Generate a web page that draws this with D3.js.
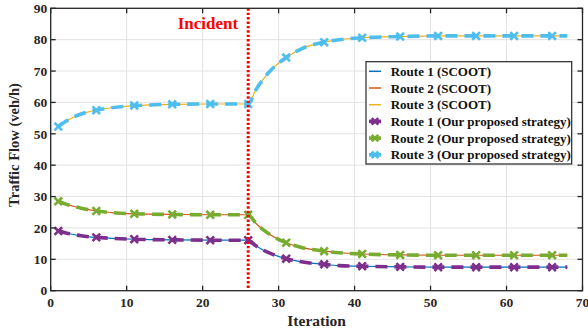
<!DOCTYPE html>
<html>
<head>
<meta charset="utf-8">
<script src="https://cdn.jsdelivr.net/npm/d3@7"></script>
<style>
body { margin: 0; background: #fff; }
svg text { font-family: "Liberation Serif", "Times New Roman", serif; font-weight: bold; }
</style>
</head>
<body>
<div class="chart"></div>
<script>
var iters  = [1, 2, 3, 4, 6, 8, 11, 13, 16, 21, 26, 27, 28, 29, 31, 33, 36, 38, 41, 46, 51, 56, 61, 66, 68];
var route1 = [19.0, 18.4, 17.9, 17.5, 17.0, 16.7, 16.4, 16.3, 16.2, 16.1, 16.1, 14.3, 12.9, 11.8, 10.2, 9.2, 8.4, 8.0, 7.8, 7.6, 7.5, 7.5, 7.5, 7.5, 7.5];
var route2 = [28.5, 27.6, 26.9, 26.3, 25.4, 24.9, 24.5, 24.4, 24.3, 24.2, 24.2, 21.5, 19.4, 17.7, 15.3, 13.8, 12.6, 12.1, 11.7, 11.4, 11.3, 11.3, 11.3, 11.3, 11.3];
var route3 = [52.3, 54.0, 55.3, 56.3, 57.5, 58.3, 59.0, 59.2, 59.4, 59.5, 59.5, 64.0, 67.5, 70.3, 74.3, 77.1, 79.2, 80.0, 80.6, 81.0, 81.2, 81.2, 81.2, 81.2, 81.2];
var markerIters = [1, 6, 11, 16, 21, 26, 31, 36, 41, 46, 51, 56, 61, 66];
var incidentIter = 26;
var xTicks = [0, 10, 20, 30, 40, 50, 60, 70];
var yTicks = [0, 10, 20, 30, 40, 50, 60, 70, 80, 90];

var colors = {
	scoot1: "#0072bd",
	scoot2: "#d95319",
	scoot3: "#edb120",
	ours1: "#7e2f8e",
	ours2: "#77ac30",
	ours3: "#4dbeee"
};

var series = [
	{ name: "Route 1 (SCOOT)", values: route1, color: colors.scoot1, kind: "scoot" },
	{ name: "Route 2 (SCOOT)", values: route2, color: colors.scoot2, kind: "scoot" },
	{ name: "Route 3 (SCOOT)", values: route3, color: colors.scoot3, kind: "scoot" },
	{ name: "Route 1 (Our proposed strategy)", values: route1, color: colors.ours1, kind: "ours" },
	{ name: "Route 2 (Our proposed strategy)", values: route2, color: colors.ours2, kind: "ours" },
	{ name: "Route 3 (Our proposed strategy)", values: route3, color: colors.ours3, kind: "ours" }
];

var W = 588, H = 331;
var margin = { left: 50.7, right: 5.5, top: 8.3, bottom: 40.3 };
var width = W - margin.left - margin.right;
var height = H - margin.top - margin.bottom;

var svg = d3.select(".chart").append("svg")
		.attr("width", W)
		.attr("height", H)
	.append("g")
		.attr("transform", "translate(" + margin.left + "," + margin.top + ")");

var x = d3.scaleLinear().domain([0, 70]).range([0, width]);
var y = d3.scaleLinear().domain([0, 90]).range([height, 0]);

// grid
svg.append("g").selectAll("line").data(xTicks).enter().append("line")
	.attr("x1", function(d){ return x(d); }).attr("x2", function(d){ return x(d); })
	.attr("y1", 0).attr("y2", height)
	.style("stroke", "#e3e3e3").style("stroke-width", 1);
svg.append("g").selectAll("line").data(yTicks).enter().append("line")
	.attr("y1", function(d){ return y(d); }).attr("y2", function(d){ return y(d); })
	.attr("x1", 0).attr("x2", width)
	.style("stroke", "#e3e3e3").style("stroke-width", 1);

// lines
var pts = function(s){ return iters.map(function(it, i){ return { x: it, y: s.values[i] }; }); };
var line = d3.line()
	.x(function(d){ return x(d.x); })
	.y(function(d){ return y(d.y); })
	.curve(d3.curveMonotoneX);

series.filter(function(s){ return s.kind == "scoot"; }).forEach(function(s){
	svg.append("path").datum(pts(s))
		.attr("d", line)
		.style("fill", "none")
		.style("stroke", s.color)
		.style("stroke-width", 1.2);
});

function xMark(g, cx, cy, r, color){
	g.append("path")
		.attr("d", "M" + (cx - r) + "," + (cy - r) + "L" + (cx + r) + "," + (cy + r) +
			"M" + (cx - r) + "," + (cy + r) + "L" + (cx + r) + "," + (cy - r))
		.style("stroke", color)
		.style("stroke-width", 2.6)
		.style("fill", "none");
}

series.filter(function(s){ return s.kind == "ours"; }).forEach(function(s){
	svg.append("path").datum(pts(s))
		.attr("d", line)
		.style("fill", "none")
		.style("stroke", s.color)
		.style("stroke-width", 3.6)
		.style("stroke-dasharray", "12,7");
	markerIters.forEach(function(it){
		var v = s.values[iters.indexOf(it)];
		xMark(svg, x(it), y(v), 3.8, s.color);
	});
});

// incident line
svg.append("line")
	.attr("x1", x(incidentIter)).attr("x2", x(incidentIter))
	.attr("y1", 0).attr("y2", height)
	.style("stroke", "#ff0000")
	.style("stroke-width", 3)
	.style("stroke-dasharray", "2.4,2");
svg.append("text")
	.attr("x", x(incidentIter) - 10)
	.attr("y", 21)
	.attr("text-anchor", "end")
	.style("font-size", "17px")
	.style("fill", "#ff0000")
	.text("Incident");

// axes box with inward ticks
var axisColor = "#262626";
svg.append("rect")
	.attr("x", 0).attr("y", 0).attr("width", width).attr("height", height)
	.style("fill", "none").style("stroke", axisColor).style("stroke-width", 1.3);

var tickLen = 5;
xTicks.forEach(function(t){
	svg.append("line").attr("x1", x(t)).attr("x2", x(t)).attr("y1", height).attr("y2", height - tickLen)
		.style("stroke", axisColor).style("stroke-width", 1.3);
	svg.append("line").attr("x1", x(t)).attr("x2", x(t)).attr("y1", 0).attr("y2", tickLen)
		.style("stroke", axisColor).style("stroke-width", 1.3);
	svg.append("text").attr("x", x(t)).attr("y", height + 16.5)
		.attr("text-anchor", "middle").style("font-size", "13.5px").style("fill", "#262626")
		.text(t);
});
yTicks.forEach(function(t){
	svg.append("line").attr("x1", 0).attr("x2", tickLen).attr("y1", y(t)).attr("y2", y(t))
		.style("stroke", axisColor).style("stroke-width", 1.3);
	svg.append("line").attr("x1", width).attr("x2", width - tickLen).attr("y1", y(t)).attr("y2", y(t))
		.style("stroke", axisColor).style("stroke-width", 1.3);
	svg.append("text").attr("x", -3.5).attr("y", y(t)).attr("dy", "0.35em")
		.attr("text-anchor", "end").style("font-size", "13.5px").style("fill", "#262626")
		.text(t);
});

// axis titles
svg.append("text")
	.attr("x", width / 2).attr("y", height + 35)
	.attr("text-anchor", "middle").style("font-size", "15.5px").style("fill", "#262626")
	.text("Iteration");
svg.append("text")
	.attr("transform", "translate(" + (-31.5) + "," + (height / 2 - 4.5) + ") rotate(-90)")
	.attr("text-anchor", "middle").style("font-size", "14.5px").style("fill", "#262626")
	.text("Traffic Flow (veh/h)");

// legend
var lg = svg.append("g").attr("transform", "translate(" + (366 - margin.left) + "," + (61.7 - margin.top) + ")");
lg.append("rect")
	.attr("width", 205.7).attr("height", 102.3)
	.style("fill", "#fff").style("stroke", "#262626").style("stroke-width", 1.2);
series.forEach(function(s, i){
	var cy = 9.6 + i * 16.7;
	if (s.kind == "scoot"){
		lg.append("line").attr("x1", 3).attr("x2", 15).attr("y1", cy).attr("y2", cy)
			.style("stroke", s.color).style("stroke-width", 1.5);
	} else {
		lg.append("line").attr("x1", 3).attr("x2", 15).attr("y1", cy).attr("y2", cy)
			.style("stroke", s.color).style("stroke-width", 3.6);
		xMark(lg, 9, cy, 3.3, s.color);
	}
	lg.append("text").attr("x", 24.7).attr("y", cy).attr("dy", "0.35em")
		.style("font-size", "13px").style("fill", "#111")
		.text(s.name);
});
</script>
</body>
</html>
